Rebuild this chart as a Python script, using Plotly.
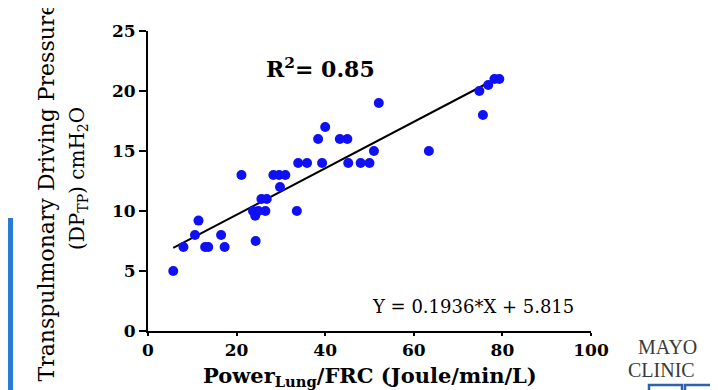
import plotly.graph_objects as go

# Data
power_frc = [5.7, 8.0, 10.6, 11.4, 12.9, 13.6, 16.5, 17.3, 21.1, 24.3,
             23.7, 24.2, 24.9, 26.5, 25.6, 26.8, 29.8, 28.3, 29.6, 31.0,
             33.6, 33.9, 35.9, 38.4, 40.0, 39.3, 43.3, 45.0, 45.2, 48.0,
             50.0, 51.0, 52.1, 63.4, 74.8, 75.6, 76.8, 78.2, 79.3]
dp_tp = [5.0, 7.0, 8.0, 9.2, 7.0, 7.0, 8.0, 7.0, 13.0, 7.5,
         10.0, 9.6, 10.0, 10.0, 11.0, 11.0, 12.0, 13.0, 13.0, 13.0,
         10.0, 14.0, 14.0, 16.0, 17.0, 14.0, 16.0, 16.0, 14.0, 14.0,
         14.0, 15.0, 19.0, 15.0, 20.0, 18.0, 20.5, 21.0, 21.0]

fit_slope = 0.1936
fit_intercept = 5.815
r_squared = 0.85

x_ticks = [0, 20, 40, 60, 80, 100]
y_ticks = [0, 5, 10, 15, 20, 25]

fit_x = [min(power_frc), max(power_frc)]
fit_y = [fit_slope * v + fit_intercept for v in fit_x]

W, H = 718, 390
L, R, T, B = 140, 135, 23, 67
pw, ph = W - L - R, H - T - B


def px2paper_x(px):
    return (px - L) / pw


def py2paper_y(py):
    return (H - B - py) / ph


fig = go.Figure()
fig.add_trace(go.Scatter(x=fit_x, y=fit_y, mode="lines",
                         line=dict(color="black", width=2), showlegend=False,
                         hoverinfo="skip"))
fig.add_trace(go.Scatter(x=power_frc, y=dp_tp, mode="markers",
                         marker=dict(color="#1010f5", size=10, line=dict(width=0)),
                         showlegend=False))

tickfont = dict(family="DejaVu Serif", size=17, color="black", weight="bold")
fig.update_xaxes(range=[0, 100], tickvals=x_ticks, ticktext=[str(v) for v in x_ticks],
                 showline=True, linecolor="black", linewidth=2,
                 ticks="outside", ticklen=3, tickwidth=2, tickcolor="black",
                 showgrid=False, zeroline=False, tickfont=tickfont)
fig.update_yaxes(range=[0, 25], tickvals=y_ticks, ticktext=[str(v) for v in y_ticks],
                 showline=True, linecolor="black", linewidth=2,
                 ticks="outside", ticklen=7, tickwidth=2, tickcolor="black",
                 showgrid=False, zeroline=False, tickfont=tickfont)

annotations = [
    dict(text="<b>R<sup>2</sup>= %.2f</b>" % r_squared, x=px2paper_x(312), y=py2paper_y(60),
         xref="paper", yref="paper", xanchor="center", yanchor="middle",
         showarrow=False, font=dict(family="DejaVu Serif", size=22, color="black")),
    dict(text="Y = %.4f*X + %.3f" % (fit_slope, fit_intercept),
         x=px2paper_x(465), y=py2paper_y(298),
         xref="paper", yref="paper", xanchor="center", yanchor="middle", showarrow=False,
         font=dict(family="DejaVu Serif", size=18, color="black")),
    dict(text="<b>Power<sub>Lung</sub>/FRC (Joule/min/L)</b>", x=px2paper_x(362),
         y=py2paper_y(368),
         xref="paper", yref="paper", xanchor="center", yanchor="middle", showarrow=False,
         font=dict(family="DejaVu Serif", size=21, color="black")),
    dict(text="Transpulmonary Driving Pressure", x=px2paper_x(38), y=py2paper_y(376),
         xref="paper", yref="paper", xanchor="center", yanchor="bottom", textangle=-90,
         showarrow=False, font=dict(family="DejaVu Serif", size=22, color="black")),
    dict(text="(DP<sub>TP</sub>) cmH<sub>2</sub>O", x=px2paper_x(70), y=py2paper_y(171),
         xref="paper", yref="paper", xanchor="center", yanchor="middle", textangle=-90,
         showarrow=False, font=dict(family="DejaVu Serif", size=20, color="black")),
    dict(text="MAYO", x=px2paper_x(628), y=py2paper_y(339), xref="paper", yref="paper",
         xanchor="left", yanchor="middle", showarrow=False,
         font=dict(family="Liberation Serif", size=20, color="#3a3a3a")),
    dict(text="CLINIC", x=px2paper_x(618), y=py2paper_y(362), xref="paper", yref="paper",
         xanchor="left", yanchor="middle", showarrow=False,
         font=dict(family="Liberation Serif", size=20, color="#3a3a3a")),
]

shapes = [
    dict(type="rect", xref="paper", yref="paper",
         x0=px2paper_x(0), x1=px2paper_x(5), y0=py2paper_y(210), y1=py2paper_y(392),
         fillcolor="#2a7bd1", line=dict(width=0), layer="above"),
    dict(type="rect", xref="paper", yref="paper",
         x0=px2paper_x(641), x1=px2paper_x(674), y0=py2paper_y(377), y1=py2paper_y(396),
         fillcolor="rgba(0,0,0,0)", line=dict(color="#3060b0", width=2.5)),
    dict(type="rect", xref="paper", yref="paper",
         x0=px2paper_x(677), x1=px2paper_x(709), y0=py2paper_y(377), y1=py2paper_y(396),
         fillcolor="rgba(0,0,0,0)", line=dict(color="#3060b0", width=2.5)),
]

fig.update_layout(width=W, height=H, margin=dict(l=L, r=R, t=T, b=B),
                  plot_bgcolor="white", paper_bgcolor="white",
                  annotations=annotations, shapes=shapes, showlegend=False)

fig.write_html("out.html")
